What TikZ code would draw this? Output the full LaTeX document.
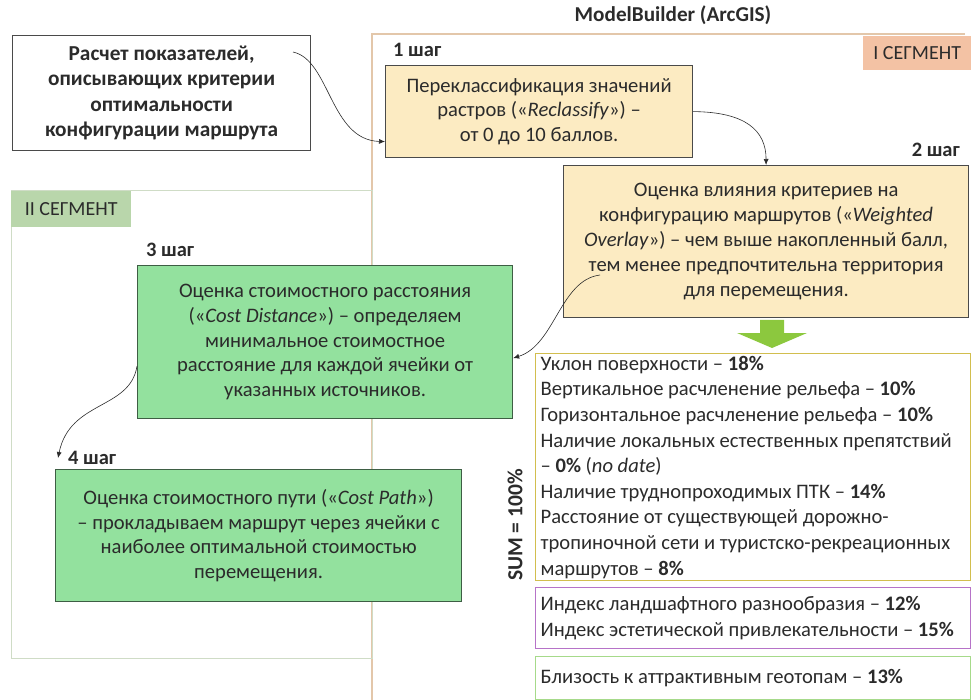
\documentclass[tikz,border=0pt]{standalone}
\usepackage{fontspec}
\setmainfont{Carlito}
\usetikzlibrary{arrows.meta}
\definecolor{txt}{HTML}{2B2B2B}
\definecolor{boxline}{HTML}{4A4A4A}
\definecolor{tanfill}{HTML}{FCEBC2}
\definecolor{greenfill}{HTML}{93E19E}
\definecolor{greenline}{HTML}{3E5E44}
\definecolor{segonefill}{HTML}{F3C2A4}
\definecolor{segtwofill}{HTML}{B9D6AB}
\definecolor{segoneline}{HTML}{E3C7AA}
\definecolor{segtwoline}{HTML}{CFDCC6}
\definecolor{listline}{HTML}{D2BE4E}
\definecolor{purpleline}{HTML}{B673C8}
\definecolor{lgreenline}{HTML}{A6DA8A}
\definecolor{bigarrow}{HTML}{8CC83E}
\tikzset{
  stepbox/.style={draw=boxline, line width=1.2pt, anchor=north west, inner sep=0pt,
    align=center, text=txt, font=\fontsize{20.6}{24.8}\selectfont},
  listbox/.style={draw=#1, line width=1.3pt, anchor=north west, inner xsep=5pt, inner ysep=0pt,
    align=flush left, text=txt, font=\fontsize{20.6}{25.6}\selectfont},
  steplabel/.style={anchor=west, inner sep=0pt, text=txt, font=\fontsize{20.5}{24}\selectfont\bfseries},
  seglabel/.style={anchor=north west, inner sep=0pt, text=txt, font=\fontsize{20}{23}\selectfont},
  link/.style={-{Latex[length=6pt,width=5pt]}, line width=0.6pt, draw=txt}
}
\begin{document}
\begin{tikzpicture}[x=1pt,y=-1pt]
  \useasboundingbox (0,0) rectangle (971,700);
  \draw[segoneline, line width=1.3pt] (965,34) -- (372,34) -- (372,700);
  \node[draw=segtwoline, line width=1.3pt, anchor=north west, minimum width=361pt, minimum height=468pt] (seg2) at (11,190) {};
  \node[seglabel, fill=segonefill, minimum width=108pt, minimum height=34pt] (seg1lab) at (863,36) {I СЕГМЕНТ};
  \node[seglabel, fill=segtwofill, minimum width=120pt, minimum height=36pt] (seg2lab) at (11,191) {II СЕГМЕНТ};
  \node[text=txt, font=\fontsize{21.2}{24}\selectfont\bfseries] (title) at (673,15) {ModelBuilder (ArcGIS)};
  \node[stepbox, fill=white, minimum width=298pt, minimum height=115pt, font=\fontsize{21.3}{25.5}\selectfont\bfseries] (calc) at (12,35)
    {Расчет показателей,\\ описывающих критерии\\ оптимальности\\ конфигурации маршрута};
  \node[steplabel] (lab1) at (393,50) {1 шаг};
  \node[stepbox, fill=tanfill, minimum width=307pt, minimum height=92pt] (s1) at (385,65)
    {Переклассификация значений\\ растров («\textit{Reclassify}») –\\ от 0 до 10 баллов.};
  \node[steplabel, anchor=east] (lab2) at (960,150) {2 шаг};
  \node[stepbox, fill=tanfill, minimum width=405pt, minimum height=152pt] (s2) at (563,165)
    {Оценка влияния критериев на\\ конфигурацию маршрутов («\textit{Weighted}\\ \textit{Overlay}») – чем выше накопленный балл,\\ тем менее предпочтительна территория\\ для перемещения.};
  \node[steplabel] (lab3) at (146,250) {3 шаг};
  \node[stepbox, draw=greenline, fill=greenfill, minimum width=375pt, minimum height=153pt] (s3) at (137,265)
    {Оценка стоимостного расстояния\\ («\textit{Cost Distance}») – определяем\\ минимальное стоимостное\\ расстояние для каждой ячейки от\\ указанных источников.};
  \node[steplabel] (lab4) at (68,458) {4 шаг};
  \node[stepbox, draw=greenline, fill=greenfill, minimum width=406pt, minimum height=132pt] (s4) at (55,469)
    {Оценка стоимостного пути («\textit{Cost Path}»)\\ – прокладываем маршрут через ячейки с\\ наиболее оптимальной стоимостью\\ перемещения.};
  \fill[bigarrow] (760,320) -- (784,320) -- (784,333) -- (807,333) -- (772,348) -- (737,333) -- (760,333) -- cycle;
  \node[listbox=listline, minimum width=435pt, minimum height=227pt, text width=425pt] (crit) at (535,353)
    {Уклон поверхности – \textbf{18\%}\\ Вертикальное расчленение рельефа – \textbf{10\%}\\ Горизонтальное расчленение рельефа – \textbf{10\%}\\ Наличие локальных естественных препятствий\\ – \textbf{0\%} (\textit{no date})\\ Наличие труднопроходимых ПТК – \textbf{14\%}\\ Расстояние от существующей дорожно-\\ тропиночной сети и туристско-рекреационных\\ маршрутов – \textbf{8\%}};
  \node[listbox=purpleline, minimum width=435pt, minimum height=61pt, text width=425pt] (land) at (535,587)
    {Индекс ландшафтного разнообразия – \textbf{12\%}\\ Индекс эстетической привлекательности – \textbf{15\%}};
  \node[listbox=lgreenline, minimum width=435pt, minimum height=43pt, text width=425pt] (geo) at (535,656)
    {Близость к аттрактивным геотопам – \textbf{13\%}};
  \node[rotate=90, text=txt, font=\fontsize{21.5}{24}\selectfont\bfseries] (sum) at (515,525) {SUM = 100\%};
  \coordinate (c0) at (293,52);
  \coordinate (c2) at (600,275);
  \draw[link] (c0) .. controls (330,60) and (330,140) .. ([yshift=-30pt]s1.west);
  \draw[link] (s1.east) .. controls (745,112) and (766,130) .. (s2.north);
  \draw[link] (c2) .. controls (560,280) and (555,345) .. ([yshift=-16pt]s3.east);
  \draw[link] ([yshift=-24pt]s3.west) .. controls (130,410) and (70,400) .. ([xshift=-10pt]lab4.west);
\end{tikzpicture}
\end{document}
